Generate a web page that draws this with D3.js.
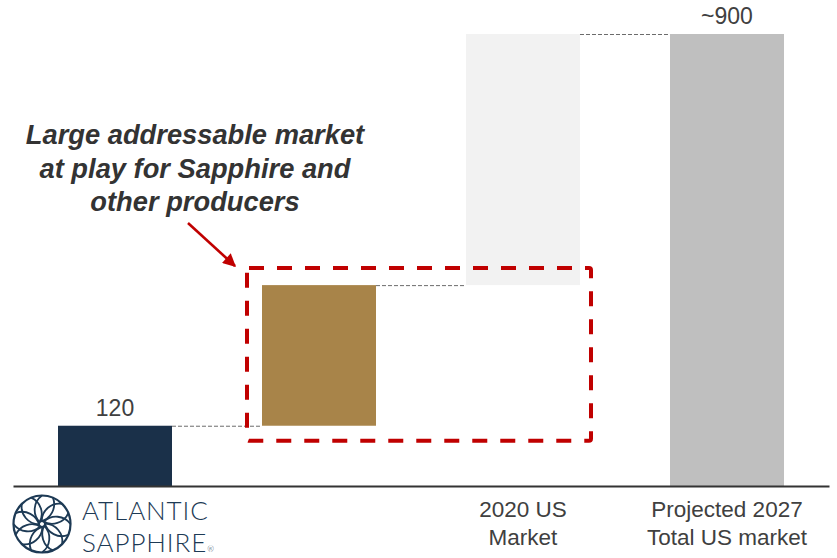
<!DOCTYPE html>
<html>
<head>
<meta charset="utf-8">
<script src="https://cdn.jsdelivr.net/npm/d3@7"></script>
<style>
  html, body { margin: 0; padding: 0; background: #ffffff; }
  svg { display: block; }
</style>
</head>
<body>
<svg id="chart" width="837" height="558"></svg>
<script>
// Waterfall: US market build-up from 120 to ~900
const categories = ["Current", "Addressable", "US2020", "US2027"];
const categoryLabels = [[], [], ["2020 US", "Market"], ["Projected 2027", "Total US market"]];
const barStarts = [0, 120, 400, 0];
const barEnds = [120, 400, 900, 900];
const valueLabels = ["120", "", "", "~900"];
const barColors = ["#1a3049", "#a88449", "#f2f2f2", "#bfbfbf"];
const annotationLines = ["Large addressable market", "at play for Sapphire and", "other producers"];

const svg = d3.select("#chart");
const baseY = 486;

const x = d3.scaleBand()
  .domain(categories)
  .range([13, 829])
  .paddingInner(0.4412)
  .paddingOuter(0.2206);

const y = d3.scaleLinear()
  .domain([0, 900])
  .range([baseY, 34]);

const textFont = "'Liberation Sans', Arial, sans-serif";

// Bars
svg.append("g").selectAll("rect")
  .data(categories)
  .join("rect")
  .attr("x", d => x(d))
  .attr("width", x.bandwidth())
  .attr("y", (d, i) => y(barEnds[i]))
  .attr("height", (d, i) => y(barStarts[i]) - y(barEnds[i]))
  .attr("fill", (d, i) => barColors[i]);

// Connectors between consecutive bars
const conn = svg.append("g");
for (let i = 0; i < categories.length - 1; i++) {
  const level = barEnds[i];
  conn.append("line")
    .attr("x1", x(categories[i]) + x.bandwidth())
    .attr("x2", x(categories[i + 1]))
    .attr("y1", y(level) + 0.5)
    .attr("y2", y(level) + 0.5)
    .attr("stroke", "#6b6b6b")
    .attr("stroke-width", 1)
    .attr("stroke-dasharray", "4,2");
}

// Value labels above bars
svg.append("g").selectAll("text")
  .data(categories)
  .join("text")
  .attr("x", d => x(d) + x.bandwidth() / 2)
  .attr("y", (d, i) => y(barEnds[i]) - 10)
  .attr("text-anchor", "middle")
  .attr("font-family", textFont)
  .attr("font-size", 23)
  .attr("fill", "#404040")
  .text((d, i) => valueLabels[i]);

// Baseline axis
const xAxis = d3.axisBottom(x).tickSize(0).tickFormat(() => "");
const axisG = svg.append("g")
  .attr("transform", `translate(0,${baseY})`)
  .call(xAxis);
axisG.select(".domain").attr("stroke", "#333333").attr("stroke-width", 2.2);

// Category labels (two lines each)
const catG = svg.append("g");
categories.forEach((c, i) => {
  categoryLabels[i].forEach((line, j) => {
    catG.append("text")
      .attr("x", x(c) + x.bandwidth() / 2)
      .attr("y", 517 + j * 28)
      .attr("text-anchor", "middle")
      .attr("font-family", textFont)
      .attr("font-size", 22.5)
      .attr("fill", "#404040")
      .text(line);
  });
});

// Dashed highlight around the addressable segment
const boxLeft = x("Addressable") - 15;
const boxRight = x("US2020") + x.bandwidth() + 11;
const boxTop = y(400) - 17;
const boxBottom = y(120) + 15;
svg.append("rect")
  .attr("x", boxLeft)
  .attr("y", boxTop)
  .attr("width", boxRight - boxLeft)
  .attr("height", boxBottom - boxTop)
  .attr("rx", 2)
  .attr("fill", "none")
  .attr("stroke", "#c00000")
  .attr("stroke-width", 4)
  .attr("stroke-dasharray", "15,13");

// Arrow pointing at the box
const defs = svg.append("defs");
defs.append("marker")
  .attr("id", "arrowHead")
  .attr("viewBox", "0 0 10 10")
  .attr("refX", 9)
  .attr("refY", 5)
  .attr("markerWidth", 5.5)
  .attr("markerHeight", 5)
  .attr("markerUnits", "strokeWidth")
  .attr("orient", "auto")
  .append("path")
  .attr("d", "M0,0 L10,5 L0,10 Z")
  .attr("fill", "#c00000");
svg.append("line")
  .attr("x1", 188).attr("y1", 223)
  .attr("x2", 235).attr("y2", 266)
  .attr("stroke", "#c00000")
  .attr("stroke-width", 2.6)
  .attr("marker-end", "url(#arrowHead)");

// Annotation text
const ann = svg.append("g");
annotationLines.forEach((line, j) => {
  ann.append("text")
    .attr("x", 195)
    .attr("y", 144 + j * 33.6)
    .attr("text-anchor", "middle")
    .attr("font-family", textFont)
    .attr("font-size", 27.3)
    .attr("font-weight", "bold")
    .attr("font-style", "italic")
    .attr("fill", "#333333")
    .text(line);
});

// Brand mark
const logoColor = "#1d3a55";
const logo = svg.append("g").attr("transform", "translate(42,524)");
const R = 28.5;
logo.append("circle").attr("r", R).attr("fill", "none")
  .attr("stroke", logoColor).attr("stroke-width", 2.2);
logo.append("circle").attr("r", 3).attr("fill", "none")
  .attr("stroke", logoColor).attr("stroke-width", 1.8);
const petalR = R * 0.62;
for (let k = 0; k < 8; k++) {
  const a = k * Math.PI / 4;
  const ex = R * Math.cos(a), ey = R * Math.sin(a);
  const sx = 3 * Math.cos(a - 0.9), sy = 3 * Math.sin(a - 0.9);
  logo.append("path")
    .attr("d", `M${sx},${sy} A${petalR},${petalR} 0 0 1 ${ex},${ey}`)
    .attr("fill", "none").attr("stroke", logoColor).attr("stroke-width", 1.8);
  logo.append("path")
    .attr("d", `M${sx},${sy} A${petalR},${petalR} 0 0 0 ${ex},${ey}`)
    .attr("fill", "none").attr("stroke", logoColor).attr("stroke-width", 1.8)
    .attr("transform", `rotate(22.5)`);
}
const brandFont = "Lato, 'Open Sans', sans-serif";
svg.append("text")
  .attr("x", 82).attr("y", 520)
  .attr("font-family", brandFont).attr("font-weight", 300)
  .attr("font-size", 26).attr("letter-spacing", 0.9)
  .attr("fill", logoColor)
  .text("ATLANTIC");
const sapphire = svg.append("text")
  .attr("x", 82).attr("y", 552)
  .attr("font-family", brandFont).attr("font-weight", 300)
  .attr("font-size", 26).attr("letter-spacing", 0.9)
  .attr("fill", logoColor);
sapphire.append("tspan").text("SAPPHIRE");
sapphire.append("tspan").attr("font-size", 8).attr("letter-spacing", 0).text("®");
</script>
</body>
</html>
